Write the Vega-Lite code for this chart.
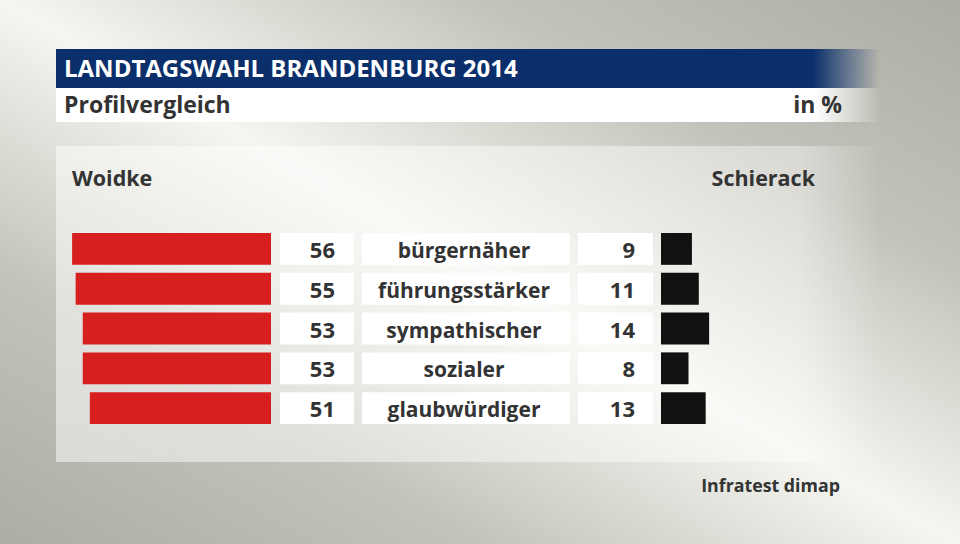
{
  "$schema": "https://vega.github.io/schema/vega-lite/v6.json",
  "width": 960,
  "height": 544,
  "autosize": {"type": "none"},
  "padding": 0,
  "background": "#c4c3bb",
  "config": {"view": {"stroke": null}, "text": {"font": "Open Sans", "fontWeight": "bold", "color": "#333333"}},
  "datasets": {
    "rows": [
      {"label": "bürgernäher", "woidke": 56, "schierack": 9},
      {"label": "führungsstärker", "woidke": 55, "schierack": 11},
      {"label": "sympathischer", "woidke": 53, "schierack": 14},
      {"label": "sozialer", "woidke": 53, "schierack": 8},
      {"label": "glaubwürdiger", "woidke": 51, "schierack": 13}
    ]
  },
  "resolve": {"scale": {"x": "independent"}},
  "layer": [
    {
      "data": {"values": [{}]},
      "mark": {"type": "rect", "fill": {"gradient": "linear", "x1": 1, "y1": 0, "x2": 0, "y2": 1, "stops": [
        {"offset": 0, "color": "#aeada5"},
        {"offset": 0.25, "color": "#c4c3bb"},
        {"offset": 0.5, "color": "#f5f6f1"},
        {"offset": 0.75, "color": "#c4c3bb"},
        {"offset": 1, "color": "#aeada5"}
      ]}},
      "encoding": {"x": {"value": 0}, "x2": {"value": 960}, "y": {"value": 0}, "y2": {"value": 544}}
    },
    {
      "data": {"values": [{}]},
      "mark": {"type": "rect", "fill": {"gradient": "linear", "x1": 0, "y1": 0, "x2": 1, "y2": 0, "stops": [
        {"offset": 0, "color": "rgba(255,255,255,0.5)"},
        {"offset": 0.9, "color": "rgba(255,255,255,0.4)"},
        {"offset": 1, "color": "rgba(255,255,255,0)"}
      ]}},
      "encoding": {"x": {"value": 56}, "x2": {"value": 880}, "y": {"value": 146}, "y2": {"value": 462}}
    },
    {
      "data": {"values": [{}]},
      "mark": {"type": "rect", "fill": {"gradient": "linear", "x1": 0, "y1": 0, "x2": 1, "y2": 0, "stops": [
        {"offset": 0, "color": "#0a2f6a"},
        {"offset": 0.918, "color": "#0a2f6a"},
        {"offset": 1, "color": "rgba(10,47,106,0)"}
      ]}},
      "encoding": {"x": {"value": 56}, "x2": {"value": 880}, "y": {"value": 49}, "y2": {"value": 88}}
    },
    {
      "data": {"values": [{}]},
      "mark": {"type": "rect", "fill": {"gradient": "linear", "x1": 0, "y1": 0, "x2": 1, "y2": 0, "stops": [
        {"offset": 0, "color": "#ffffff"},
        {"offset": 0.92, "color": "#ffffff"},
        {"offset": 1, "color": "rgba(255,255,255,0)"}
      ]}},
      "encoding": {"x": {"value": 56}, "x2": {"value": 880}, "y": {"value": 88}, "y2": {"value": 122}}
    },
    {
      "data": {"values": [{}]},
      "mark": {"type": "text", "text": "LANDTAGSWAHL BRANDENBURG 2014", "fontSize": 24, "color": "#ffffff", "align": "left", "baseline": "alphabetic"},
      "encoding": {"x": {"value": 64}, "y": {"value": 77}}
    },
    {
      "data": {"values": [{}]},
      "mark": {"type": "text", "text": "Profilvergleich", "fontSize": 23, "align": "left", "baseline": "alphabetic"},
      "encoding": {"x": {"value": 64}, "y": {"value": 113}}
    },
    {
      "data": {"values": [{}]},
      "mark": {"type": "text", "text": "in %", "fontSize": 23, "align": "right", "baseline": "alphabetic"},
      "encoding": {"x": {"value": 842}, "y": {"value": 113}}
    },
    {
      "data": {"values": [{}]},
      "mark": {"type": "text", "text": "Woidke", "fontSize": 21.5, "align": "left", "baseline": "alphabetic"},
      "encoding": {"x": {"value": 72}, "y": {"value": 186}}
    },
    {
      "data": {"values": [{}]},
      "mark": {"type": "text", "text": "Schierack", "fontSize": 21.5, "align": "right", "baseline": "alphabetic"},
      "encoding": {"x": {"value": 815}, "y": {"value": 186}}
    },
    {
      "data": {"values": [{}]},
      "mark": {"type": "text", "text": "Infratest dimap", "fontSize": 17.8, "align": "right", "baseline": "alphabetic"},
      "encoding": {"x": {"value": 840}, "y": {"value": 492}}
    },
    {
      "data": {"name": "rows"},
      "mark": {"type": "rect", "color": "#ffffff"},
      "encoding": {
        "y": {"field": "label", "type": "nominal", "sort": null, "axis": null, "scale": {"range": [233, 424], "paddingInner": 0.2, "paddingOuter": 0}},
        "x": {"value": 280}, "x2": {"value": 354}
      }
    },
    {
      "data": {"name": "rows"},
      "mark": {"type": "rect", "color": "#ffffff"},
      "encoding": {
        "y": {"field": "label", "type": "nominal", "sort": null, "axis": null},
        "x": {"value": 362}, "x2": {"value": 570}
      }
    },
    {
      "data": {"name": "rows"},
      "mark": {"type": "rect", "color": "#ffffff"},
      "encoding": {
        "y": {"field": "label", "type": "nominal", "sort": null, "axis": null},
        "x": {"value": 578}, "x2": {"value": 653}
      }
    },
    {
      "data": {"name": "rows"},
      "mark": {"type": "bar", "color": "#d71f1f"},
      "encoding": {
        "y": {"field": "label", "type": "nominal", "sort": null, "axis": null},
        "x": {"field": "woidke", "type": "quantitative", "axis": null, "scale": {"domain": [0, 76.3], "range": [271, 0], "nice": false, "zero": true}}
      }
    },
    {
      "data": {"name": "rows"},
      "mark": {"type": "bar", "color": "#111111"},
      "encoding": {
        "y": {"field": "label", "type": "nominal", "sort": null, "axis": null},
        "x": {"field": "schierack", "type": "quantitative", "axis": null, "scale": {"domain": [0, 87], "range": [661, 960], "nice": false, "zero": true}}
      }
    },
    {
      "data": {"name": "rows"},
      "mark": {"type": "text", "fontSize": 22, "align": "right", "baseline": "alphabetic", "dy": 9},
      "encoding": {
        "y": {"field": "label", "type": "nominal", "sort": null, "axis": null},
        "x": {"value": 335},
        "text": {"field": "woidke", "type": "quantitative"}
      }
    },
    {
      "data": {"name": "rows"},
      "mark": {"type": "text", "fontSize": 21, "align": "center", "baseline": "alphabetic", "dy": 9},
      "encoding": {
        "y": {"field": "label", "type": "nominal", "sort": null, "axis": null},
        "x": {"value": 464},
        "text": {"field": "label", "type": "nominal"}
      }
    },
    {
      "data": {"name": "rows"},
      "mark": {"type": "text", "fontSize": 22, "align": "right", "baseline": "alphabetic", "dy": 9},
      "encoding": {
        "y": {"field": "label", "type": "nominal", "sort": null, "axis": null},
        "x": {"value": 635},
        "text": {"field": "schierack", "type": "quantitative"}
      }
    }
  ]
}
